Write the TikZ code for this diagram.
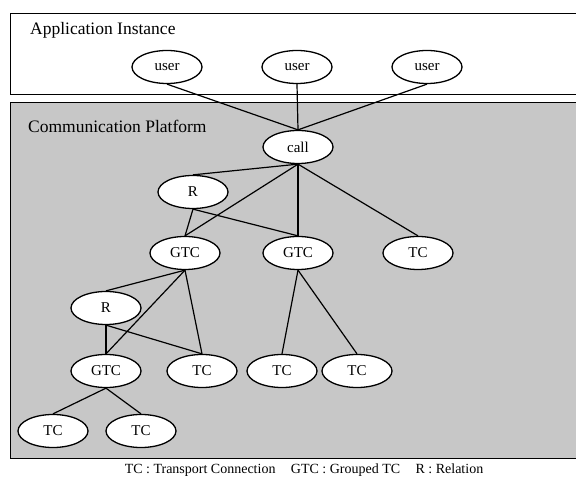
\documentclass[tikz,border=0pt]{standalone}
\usepackage{fontspec}
\setmainfont{Liberation Serif}
\usetikzlibrary{shapes.geometric}
\begin{document}
\begin{tikzpicture}[x=1pt,y=-1pt,
  ent/.style={ellipse,draw,line width=1.3pt,fill=white,minimum width=70pt,
    minimum height=33pt,inner sep=0pt,font=\fontsize{15}{17}\selectfont},
  link/.style={line width=1.2pt},
  frame/.style={line width=1pt},
  title/.style={anchor=base west,inner sep=0pt,font=\fontsize{17.5}{20}\selectfont}]
\useasboundingbox (0,0) rectangle (576,478);
% layers
\draw[frame] (10,14) rectangle (578,95);
\draw[frame,fill=black!22] (10,103) rectangle (578,458);
\node[title] (appl) at (30,35) {Application Instance};
\node[title] (comm) at (28,133) {Communication Platform};
% entities
\node[ent] (u1) at (167,67) {user};
\node[ent] (u2) at (297,67) {user};
\node[ent] (u3) at (427,67) {user};
\node[ent] (call) at (298,147) {call};
\node[ent] (r1) at (193,192) {R};
\node[ent] (g1) at (185,253) {GTC};
\node[ent] (g2) at (298,253) {GTC};
\node[ent] (t1) at (418,253) {TC};
\node[ent] (r2) at (106,308) {R};
\node[ent] (g3) at (106,371) {GTC};
\node[ent] (t2) at (202,371) {TC};
\node[ent] (t3) at (282,371) {TC};
\node[ent] (t4) at (357,371) {TC};
\node[ent] (t5) at (53,431) {TC};
\node[ent] (t6) at (141,431) {TC};
% connections
\foreach \a/\b in {u1/call,u2/call,u3/call,
  call/r1,call/g1,call/g2,call/t1,
  r1/g1,r1/g2,
  g1/r2,g1/g3,g1/t2,
  r2/g3,r2/t2,
  g2/t3,g2/t4,
  g3/t5,g3/t6}
  \draw[link] (\a.south) -- (\b.north);
% legend
\node[anchor=base,inner sep=0pt,font=\fontsize{14}{16}\selectfont] (legend) at (304,473)
  {TC : Transport Connection\hspace{1.1em}GTC : Grouped TC\hspace{1.1em}R : Relation};
\end{tikzpicture}
\end{document}
